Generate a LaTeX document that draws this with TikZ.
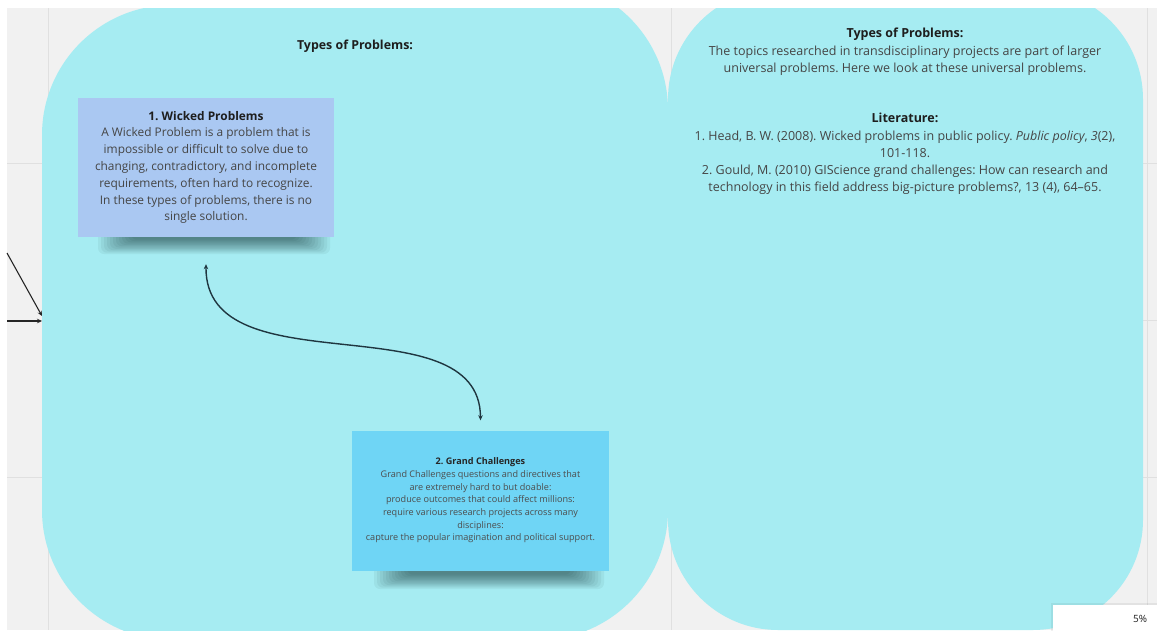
\documentclass[tikz,border=0pt]{standalone}
\usepackage{fontspec}
\setmainfont{Open Sans}
\frenchspacing
\usetikzlibrary{arrows.meta}

\definecolor{canvas}{HTML}{F1F1F1}
\definecolor{gridc}{HTML}{E0E0E0}
\definecolor{blob}{HTML}{A6ECF2}
\definecolor{wickedc}{HTML}{AAC8F2}
\definecolor{grandc}{HTML}{6FD5F5}
\definecolor{ink}{HTML}{454545}
\definecolor{head}{HTML}{1E1E1E}
\definecolor{linkc}{HTML}{1F3640}

\tikzset{
  card/.style={draw=none, inner sep=0pt, align=center, text=ink},
  plain/.style={inner sep=0pt, align=center, text=ink},
  link/.style={draw=linkc, line width=1.4pt,
    {Stealth[length=5pt,width=4.5pt]}-{Stealth[length=5pt,width=4.5pt]}},
  sidearrow/.style={draw=black!85, line width=1.1pt,
    -{Stealth[length=5pt,width=4.5pt]}},
  gridline/.style={draw=gridc, line width=0.8pt},
}

\begin{document}
\begin{tikzpicture}[x=1pt,y=-1pt]
\useasboundingbox (0,0) rectangle (1157,630);
\begin{scope}
\clip (0,0) rectangle (1157,630);

% canvas and grid
\fill[white] (0,0) rectangle (1157,630);
\fill[canvas] (7,8) rectangle (1157,630);
\foreach \gx in {48,671,1147} \draw[gridline] (\gx,8) -- (\gx,630);
\foreach \gy in {163,320,477} \draw[gridline] (7,\gy) -- (1157,\gy);

% left frame
\fill[blob] (42,135) .. controls (42,63.2) and (100.2,5) .. (172,5)
  -- (538,-20) .. controls (609.8,-20) and (668,38.2) .. (668,110)
  -- (668,510) .. controls (668,581.8) and (609.8,640) .. (538,640)
  -- (172,640) .. controls (100.2,640) and (42,581.8) .. (42,510) -- cycle;

% right frame
\fill[blob, rounded corners=110pt] (668,-11) rectangle (1143,630);

% top and left margins
\fill[white] (0,0) rectangle (1157,8);
\fill[white] (0,0) rectangle (7,630);

% arrows entering from the left
\coordinate (la1) at (7,253);
\coordinate (la2) at (42,316);
\coordinate (lb1) at (7,321);
\coordinate (lb2) at (42,321);
\draw[sidearrow] (la1) -- (la2);
\draw[sidearrow] (lb1) -- (lb2);

% soft card shadows
\foreach \i in {0,...,11}
  \fill[black!80!teal, opacity=0.05, rounded corners=6pt]
    (98+\i*3,230) rectangle (330-\i*3,254-\i*1.3);
\foreach \i in {0,...,11}
  \fill[black!80!teal, opacity=0.05, rounded corners=6pt]
    (374+\i*3,564) rectangle (604-\i*3,589-\i*1.3);

% titles
\node[plain, text=head, font=\bfseries\fontsize{12.4}{14}\selectfont] (ltitle) at (355,46) {Types of Problems:};

% cards
\node[card, fill=wickedc, minimum width=256pt, minimum height=139pt,
      font=\fontsize{11.9}{16.8}\selectfont] (wicked) at (206,167.5)
  {\textcolor{head}{\bfseries 1. Wicked Problems}\\
   A Wicked Problem is a problem that is\\
   impossible or difficult to solve due to\\
   changing, contradictory, and incomplete\\
   requirements, often hard to recognize.\\
   In these types of problems, there is no\\
   single solution.};

\node[card, fill=grandc, minimum width=257pt, minimum height=140pt,
      text=black!70, font=\fontsize{9.1}{12.7}\selectfont] (grand) at (480.5,500.5)
  {\textcolor{black!85}{\bfseries 2. Grand Challenges}\\
   Grand Challenges questions and directives that\\
   are extremely hard to but doable:\\
   produce outcomes that could affect millions:\\
   require various research projects across many\\
   disciplines:\\
   capture the popular imagination and political support.};

% connector between the two cards
\coordinate (w1) at ([yshift=-27pt]wicked.south);
\coordinate (g1) at ([yshift=10pt]grand.north);
\draw[link] (w1) .. controls (205,390) and (480,300) .. (g1);

% description and literature
\node[plain, anchor=north, font=\fontsize{12.5}{17.3}\selectfont] (about) at (905,28)
  {\textcolor{head}{\bfseries Types of Problems:}\\
   The topics researched in transdisciplinary projects are part of larger\\
   universal problems. Here we look at these universal problems.};
\node[plain, anchor=north, font=\fontsize{12.5}{17.3}\selectfont] (lit) at (905,113)
  {\textcolor{head}{\bfseries Literature:}\\
   1. Head, B. W. (2008). Wicked problems in public policy. \textit{Public policy}, \textit{3}(2),\\
   101-118.\\
   2. Gould, M. (2010) GIScience grand challenges: How can research and\\
   technology in this field address big-picture problems?, 13 (4), 64--65.};

% zoom widget in the corner
\fill[black, opacity=0.06] (1051,603) rectangle (1157,640);
\fill[white] (1053,605) rectangle (1157,640);
\node[plain, text=head, font=\fontsize{10}{12}\selectfont] (zoomlbl) at (1140,619) {5\%};
\end{scope}
\end{tikzpicture}
\end{document}
